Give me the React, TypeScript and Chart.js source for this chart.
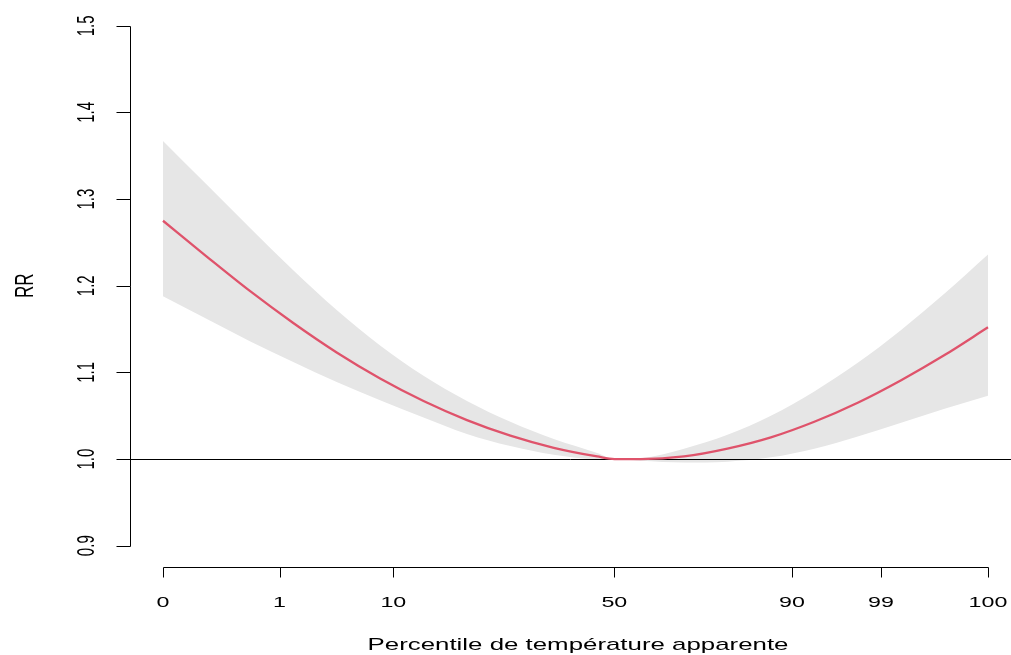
import React, { useEffect, useRef } from "react";
import { Chart, registerables } from "chart.js";

Chart.register(...registerables);

// Apparent temperature grid (x positions of the curve)
const temps = [-8, -6, -4, -2, 0, 2, 4, 6, 8, 10, 12, 12.8, 14, 16, 18, 20, 22, 24, 26, 28, 30];
// Relative risk curve and 95% CI
const rr = [1.275, 1.234, 1.194, 1.157, 1.123, 1.093, 1.067, 1.045, 1.027, 1.013, 1.003, 1.0, 1.0, 1.003, 1.012, 1.025, 1.043, 1.065, 1.091, 1.12, 1.152];
const upper = [1.367, 1.317, 1.267, 1.218, 1.172, 1.131, 1.096, 1.067, 1.043, 1.023, 1.007, 1.0, 1.001, 1.012, 1.028, 1.05, 1.078, 1.111, 1.149, 1.191, 1.236];
const lower = [1.188, 1.162, 1.136, 1.112, 1.089, 1.068, 1.048, 1.029, 1.015, 1.005, 1.0, 1.0, 0.998, 0.996, 0.997, 1.002, 1.012, 1.026, 1.042, 1.058, 1.073];

// X axis: percentile ticks located at their temperatures
const xTickTemps = [-8, -2.63, 2.61, 12.79, 20.97, 25.07, 30];
const xTickLabels = ["0", "1", "10", "50", "90", "99", "100"];
// Y axis ticks
const yTicks = [0.9, 1.0, 1.1, 1.2, 1.3, 1.4, 1.5];
const yTickLabels = ["0.9", "1.0", "1.1", "1.2", "1.3", "1.4", "1.5"];

const xTitle = "Percentile de température apparente";
const yTitle = "RR";

const FONT = '"Liberation Sans", Arial, sans-serif';

function drawText(
  ctx: CanvasRenderingContext2D,
  text: string,
  x: number,
  y: number,
  size: number,
  sx: number,
  rotate: boolean
) {
  ctx.save();
  ctx.translate(x, y);
  ctx.scale(sx, 1);
  if (rotate) ctx.rotate(-Math.PI / 2);
  ctx.font = `${size}px ${FONT}`;
  ctx.textAlign = "center";
  ctx.textBaseline = "alphabetic";
  ctx.fillStyle = "#000";
  ctx.fillText(text, 0, 0);
  ctx.restore();
}

const rAxesPlugin = {
  id: "rAxes",
  beforeDatasetDraw(chart: any, args: any) {
    if (args.index !== 2) return;
    const { ctx, chartArea } = chart;
    const y = Math.round(chart.scales.y.getPixelForValue(1.0)) + 0.5;
    ctx.save();
    ctx.strokeStyle = "#000";
    ctx.lineWidth = 1;
    ctx.beginPath();
    ctx.moveTo(chartArea.left, y);
    ctx.lineTo(chartArea.right, y);
    ctx.stroke();
    ctx.restore();
  },
  afterDraw(chart: any) {
    const { ctx, chartArea, scales } = chart;
    const xs = scales.x;
    const ys = scales.y;
    ctx.save();
    ctx.strokeStyle = "#000";
    ctx.lineWidth = 1;
    // Y axis
    const ax = Math.round(chartArea.left) + 0.5;
    const yTop = Math.round(ys.getPixelForValue(yTicks[yTicks.length - 1])) + 0.5;
    const yBot = Math.round(ys.getPixelForValue(yTicks[0])) + 0.5;
    ctx.beginPath();
    ctx.moveTo(ax, yTop);
    ctx.lineTo(ax, yBot);
    yTicks.forEach((v) => {
      const py = Math.round(ys.getPixelForValue(v)) + 0.5;
      ctx.moveTo(ax, py);
      ctx.lineTo(ax - 14, py);
    });
    ctx.stroke();
    // X axis
    const ay = Math.round(chartArea.bottom) + 0.5;
    const xL = Math.round(xs.getPixelForValue(xTickTemps[0])) + 0.5;
    const xR = Math.round(xs.getPixelForValue(xTickTemps[xTickTemps.length - 1])) + 0.5;
    ctx.beginPath();
    ctx.moveTo(xL, ay);
    ctx.lineTo(xR, ay);
    xTickTemps.forEach((v) => {
      const px = Math.round(xs.getPixelForValue(v)) + 0.5;
      ctx.moveTo(px, ay);
      ctx.lineTo(px, ay + 10);
    });
    ctx.stroke();
    ctx.restore();

    // Labels
    xTickTemps.forEach((v, i) => {
      drawText(ctx, xTickLabels[i], xs.getPixelForValue(v), 606.5, 15, 1.55, false);
    });
    yTicks.forEach((v, i) => {
      drawText(ctx, yTickLabels[i], 94, ys.getPixelForValue(v), 15, 1.55, true);
    });
    drawText(ctx, xTitle, 578, 650, 17, 1.52, false);
    drawText(ctx, yTitle, 33, (chartArea.top + chartArea.bottom) / 2, 17, 1.5, true);
  },
};

export default function App() {
  const ref = useRef<HTMLCanvasElement | null>(null);

  useEffect(() => {
    document.body.style.margin = "0";
    const canvas = ref.current;
    if (!canvas) return;
    const toPts = (arr: number[]) => arr.map((v, i) => ({ x: temps[i], y: v }));
    const chart = new Chart(canvas, {
      type: "line",
      data: {
        datasets: [
          {
            label: "upper",
            data: toPts(upper),
            borderColor: "rgba(0,0,0,0)",
            borderWidth: 0,
            backgroundColor: "#E6E6E6",
            pointRadius: 0,
            fill: "+1",
            order: 3,
            cubicInterpolationMode: "monotone",
          },
          {
            label: "lower",
            data: toPts(lower),
            borderColor: "rgba(0,0,0,0)",
            borderWidth: 0,
            backgroundColor: "#E6E6E6",
            pointRadius: 0,
            fill: false,
            order: 3,
            cubicInterpolationMode: "monotone",
          },
          {
            label: "RR",
            data: toPts(rr),
            borderColor: "#DF536B",
            borderWidth: 2.3,
            pointRadius: 0,
            fill: false,
            order: 1,
            cubicInterpolationMode: "monotone",
          },
        ],
      },
      options: {
        responsive: false,
        animation: false,
        devicePixelRatio: 1,
        layout: { padding: { left: 130, right: 0, top: 5, bottom: 88.5 } },
        plugins: {
          legend: { display: false },
          title: { display: false },
          tooltip: { enabled: false },
        },
        scales: {
          x: { type: "linear", display: false, min: -9.52, max: 31.06 },
          y: { type: "linear", display: false, min: 0.876, max: 1.524 },
        },
      },
      plugins: [rAxesPlugin],
    });
    return () => chart.destroy();
  }, []);

  return (
    <div style={{ position: "fixed", left: 0, top: 0, width: 1011, height: 655, background: "#fff" }}>
      <canvas ref={ref} width={1011} height={655} style={{ display: "block" }} />
    </div>
  );
}
